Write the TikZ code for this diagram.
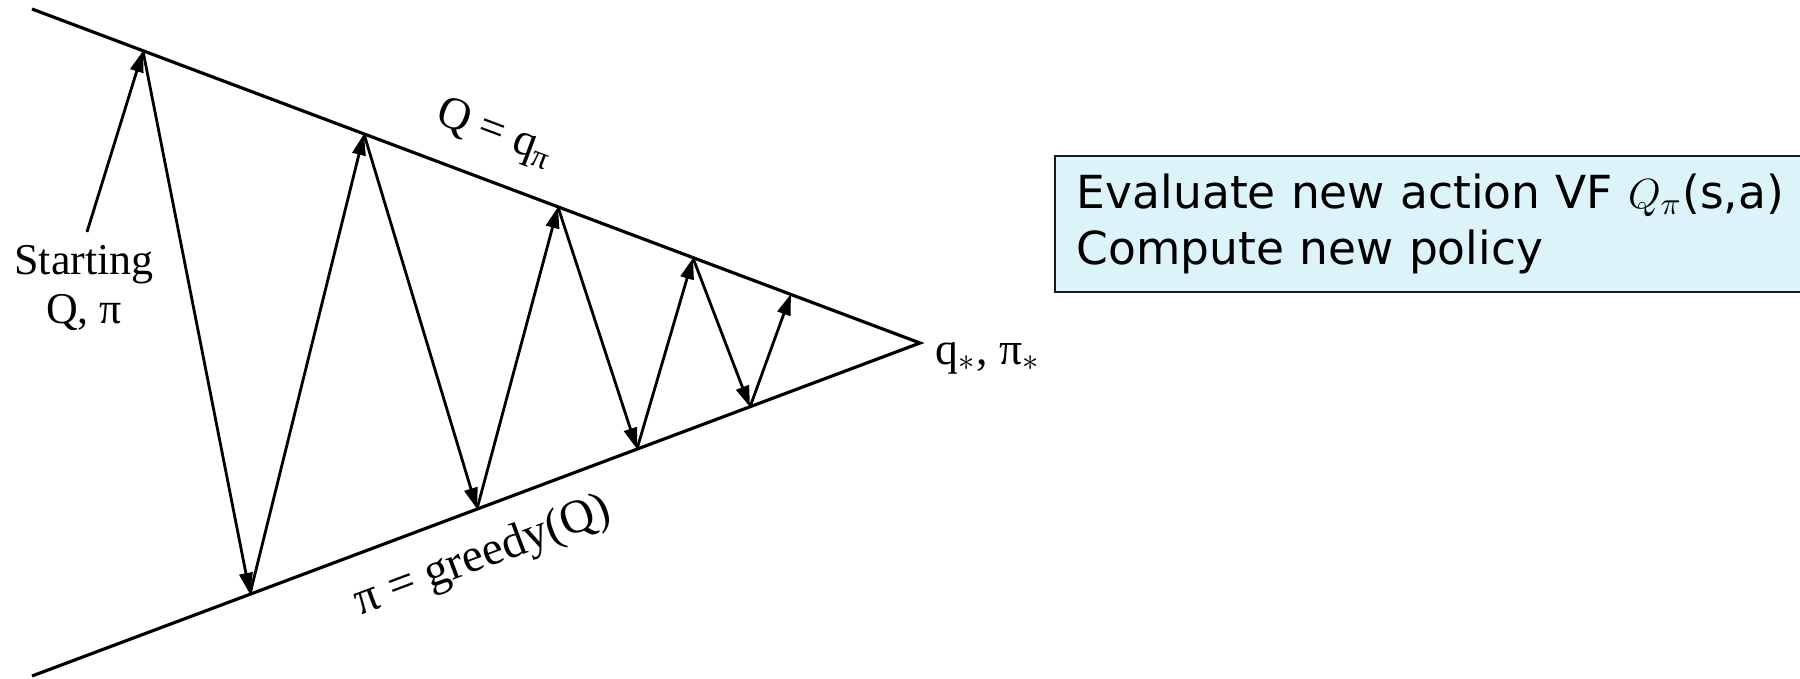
\documentclass[tikz,border=0pt]{standalone}
\usepackage{fontspec}
\setmainfont{Liberation Serif}
\newfontfamily\boxsans{DejaVu Sans}
\usetikzlibrary{arrows.meta}
\definecolor{boxcyan}{HTML}{DCF4F9}
\definecolor{boxedge}{HTML}{1A1A1A}

\begin{document}
\begin{tikzpicture}[>={Triangle[length=6pt, width=3.8pt]}, line width=0.9pt,
  x=0.01cm, y=-0.01cm]

% Canvas
\useasboundingbox (0,0) rectangle (1800,679);

% === Wedge ===
\coordinate (topL) at (32,9);
\coordinate (botL) at (32,676);
\coordinate (apex) at (920,343);
\draw (topL) -- (apex) -- (botL);

% Points on the upper edge (Q = q_pi)
\coordinate (t1) at (143,51);
\coordinate (t2) at (364,134);
\coordinate (t3) at (558,207);
\coordinate (t4) at (693,258);
\coordinate (t5) at (791,294);

% Points on the lower edge (greedy policy)
\coordinate (b1) at (250,594);
\coordinate (b2) at (477,509);
\coordinate (b3) at (637,449);
\coordinate (b4) at (750,407);

% Tail of the first arrow
\coordinate (s0) at (87,232);

% === Zig-zag of steps ===
\foreach \from/\to in {s0/t1, t1/b1, b1/t2, t2/b2, b2/t3, t3/b3, b3/t4, t4/b4, b4/t5}
  \draw[->, line width=0.8pt] (\from) -- (\to);

% === Labels ===
\node[font=\fontsize{12.5}{14.2}\selectfont, align=center] (start) at (84,288)
  {Starting\\Q, π};
\node[font=\fontsize{13}{15}\selectfont, rotate=-20.6] (evallbl) at (495,134)
  {Q = q\textsubscript{π}};
\node[font=\fontsize{13.5}{15}\selectfont, rotate=20.6] (greedylbl) at (483,557)
  {π = greedy(Q)};
\node[font=\fontsize{13}{15}\selectfont, anchor=base west, inner sep=0pt] (optlbl)
  at (934,364) {q$_*$, π$_*$};

% Legend box (runs off the right edge)
\node[draw=boxedge, fill=boxcyan, line width=0.5pt, anchor=north west,
      minimum height=1.36cm, text width=7.12cm, inner xsep=0.22cm, align=left,
      font=\boxsans\fontsize{12.95}{16}\selectfont] (legend) at (1054,155)
  {Evaluate new action VF $Q_\pi$(s,a)\\Compute new policy};

\end{tikzpicture}
\end{document}
